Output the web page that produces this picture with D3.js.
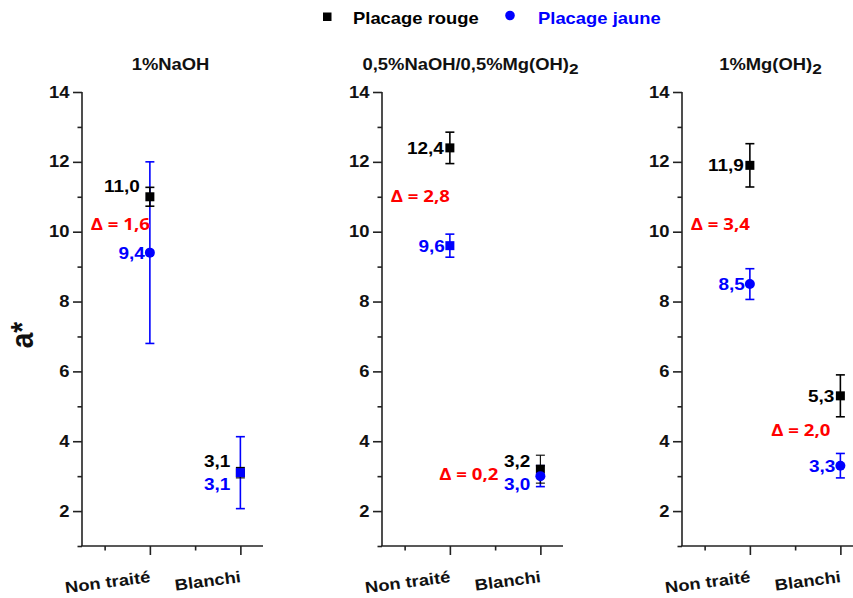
<!DOCTYPE html>
<html>
<head>
<meta charset="utf-8">
<script src="https://cdn.jsdelivr.net/npm/d3@7"></script>
<style>
  html, body { margin: 0; padding: 0; background: #fff; }
  svg { display: block; }
</style>
</head>
<body>
<svg id="chart" width="853" height="598"></svg>
<script>
// ---------------- DATA ----------------
const panelTitles = ["1%NaOH", "0,5%NaOH/0,5%Mg(OH)2", "1%Mg(OH)2"];
const categories = ["Non traité", "Blanchi"];
const seriesNames = ["Placage rouge", "Placage jaune"];
const rougeValues = [[11.0, 3.1], [12.4, 3.2], [11.9, 5.3]];
const rougeErrors = [[0.27, 0.15], [0.45, 0.40], [0.62, 0.60]];
const jauneValues = [[9.4, 3.1], [9.6, 3.0], [8.5, 3.3]];
const jauneErrors = [[2.6, 1.03], [0.33, 0.30], [0.44, 0.35]];
const jauneMarkers = [["circle", "square"], ["square", "circle"], ["circle", "circle"]];
const yMajorTicks = [2, 4, 6, 8, 10, 12, 14];
const yMinorTicks = [1, 3, 5, 7, 9, 11, 13];
const xMinorTicks = [0.5, 1.5];
const yLabel = "a*";

// ---------------- LAYOUT ----------------
const svg = d3.select("#chart");
const SX = 1.15;                 // horizontal stretch of the original figure
const panelX = [82, 382, 682];
const panelW = 181;
const yTop = 92, yBottom = 546;
const colRouge = "#000000", colJaune = "#0000ff", colDelta = "#ff0000";
const fontMain = "'Liberation Sans', Arial, sans-serif";
const fontDelta = "'Open Sans', 'Noto Sans', sans-serif";

const y = d3.scaleLinear().domain([1, 14]).range([yBottom, yTop]);
const x = d3.scaleLinear().domain([0.25, 2.25]).range([0, panelW]);
const fmt = d3.formatLocale({decimal: ",", thousands: " ", grouping: [3], currency: ["", ""]}).format(".1f");

function stretched(g, tx, ty, extra, sx) {
  return g.append("text")
    .attr("transform", `translate(${tx},${ty}) scale(${sx || SX},1)` + (extra || ""));
}

// Legend
const legend = svg.append("g");
legend.append("rect").attr("x", 323).attr("y", 12.5).attr("width", 8.5).attr("height", 8.5).attr("fill", colRouge);
stretched(legend, 353, 23.5).text(seriesNames[0])
  .attr("font-family", fontMain).attr("font-weight", "bold").attr("font-size", 16).attr("fill", colRouge);
legend.append("circle").attr("cx", 510).attr("cy", 15.5).attr("r", 4.8).attr("fill", colJaune);
stretched(legend, 538, 23.5).text(seriesNames[1])
  .attr("font-family", fontMain).attr("font-weight", "bold").attr("font-size", 16).attr("fill", colJaune);

// Y label
stretched(svg, 33, 335, " rotate(-90)").text(yLabel)
  .attr("text-anchor", "middle")
  .attr("font-family", fontMain).attr("font-weight", "bold").attr("font-size", 28).attr("fill", "#111");

panelTitles.forEach((title, p) => {
  const g = svg.append("g").attr("transform", `translate(${panelX[p]},0)`);

  // Title with subscript
  const t = stretched(g, panelW / 2 - 2, 70)
    .attr("text-anchor", "middle")
    .attr("font-family", fontMain).attr("font-weight", "bold").attr("font-size", 16).attr("fill", "#111");
  const parts = title.split(/(?<=\))2/);
  parts.forEach((part, i) => {
    if (i > 0) t.append("tspan").attr("font-size", 15).attr("dy", 4).text("2");
    if (part) t.append("tspan").attr("dy", i > 0 ? -4 : 0).text(part);
  });

  // Y axis (major + minor)
  const yAxis = g.append("g")
    .call(d3.axisLeft(y).tickValues(yMajorTicks).tickSize(9).tickSizeOuter(0).tickPadding(3.5).tickFormat(d3.format("d")));
  yAxis.selectAll("text").attr("transform", `scale(${SX},1)`)
    .attr("x", -12.5 / SX)
    .attr("font-family", fontMain).attr("font-weight", "bold").attr("font-size", 16).attr("fill", "#111");
  const yMinor = g.append("g")
    .call(d3.axisLeft(y).tickValues(yMinorTicks).tickSize(4.5).tickSizeOuter(0).tickFormat(""));
  yMinor.select(".domain").remove();

  // X axis
  const xAxis = g.append("g").attr("transform", `translate(0,${yBottom})`)
    .call(d3.axisBottom(x).tickValues([1, 2]).tickSize(9).tickSizeOuter(0).tickFormat(""));
  const xMinor = g.append("g").attr("transform", `translate(0,${yBottom})`)
    .call(d3.axisBottom(x).tickValues(xMinorTicks).tickSize(4.5).tickSizeOuter(0).tickFormat(""));
  xMinor.select(".domain").remove();
  g.selectAll(".domain, .tick line").attr("stroke", "#222").attr("stroke-width", 1.6);
  yAxis.select(".domain").attr("d", `M0,${yTop}V${yBottom}`);
  xAxis.select(".domain").attr("d", `M-0.8,0H${panelW}`);

  // X category labels (slanted)
  categories.forEach((c, i) => {
    g.append("text")
      .attr("transform", `translate(${x(i + 1) + 1},582) rotate(-7.5) scale(${SX},1)`)
      .text(c)
      .attr("text-anchor", "end")
      .attr("font-family", fontMain).attr("font-weight", "bold").attr("font-size", 16).attr("fill", "#111");
  });

  const pts = categories.map((c, i) => ({
    xi: i + 1,
    r: rougeValues[p][i], re: rougeErrors[p][i],
    j: jauneValues[p][i], je: jauneErrors[p][i],
    shape: jauneMarkers[p][i]
  }));

  function errorBar(cx, v, e, color, w) {
    const eb = g.append("g").attr("stroke", color).attr("stroke-width", w).attr("fill", "none");
    eb.append("line").attr("x1", cx).attr("x2", cx).attr("y1", y(v + e)).attr("y2", y(v - e));
    eb.append("line").attr("x1", cx - 4.5).attr("x2", cx + 4.5).attr("y1", y(v + e)).attr("y2", y(v + e));
    eb.append("line").attr("x1", cx - 4.5).attr("x2", cx + 4.5).attr("y1", y(v - e)).attr("y2", y(v - e));
  }
  function marker(cx, v, shape, color) {
    if (shape === "circle") {
      g.append("circle").attr("cx", cx).attr("cy", y(v)).attr("r", 5).attr("fill", color);
    } else {
      g.append("rect").attr("x", cx - 4.5).attr("y", y(v) - 4.5).attr("width", 9).attr("height", 9).attr("fill", color);
    }
  }

  // draw order: jaune error bars, rouge bars + markers, jaune markers
  pts.forEach(d => errorBar(x(d.xi), d.j, d.je, colJaune, 1.6));
  pts.forEach(d => errorBar(x(d.xi), d.r, d.re, colRouge, Math.abs(d.r - d.j) < 0.5 ? 1.1 : 1.6));
  pts.forEach(d => marker(x(d.xi), d.r, "square", colRouge));
  pts.forEach(d => marker(x(d.xi), d.j, d.shape, colJaune));

  // Labels
  pts.forEach(d => {
    const cx = x(d.xi);
    const overlap = Math.abs(d.r - d.j) < 0.5;
    const covered = d.j + d.je > d.r - d.re;
    let ry, jy;
    if (overlap) {
      const m = (y(d.r) + y(d.j)) / 2;
      ry = m - 12; jy = m + 11;
    } else {
      ry = y(d.r); jy = y(d.j);
      if (covered) ry -= 11;  // jaune error bar covers rouge point
    }
    stretched(g, overlap ? cx - 10 : cx - (covered ? 10 : 6), ry).text(fmt(d.r))
      .attr("text-anchor", "end").attr("dy", "0.36em")
      .attr("font-family", fontMain).attr("font-weight", "bold").attr("font-size", 16.5).attr("fill", colRouge);
    stretched(g, overlap ? cx - 10 : cx - 5, jy).text(fmt(d.j))
      .attr("text-anchor", "end").attr("dy", "0.36em")
      .attr("font-family", fontMain).attr("font-weight", "bold").attr("font-size", 16.5).attr("fill", colJaune);

    const delta = Math.round((d.r - d.j) * 10) / 10;
    if (delta > 0) {
      const dyMid = (y(d.r) + y(d.j)) / 2;
      const dx = overlap ? cx - 42 : (d.xi === 2 ? cx - 10 : cx);
      stretched(g, dx, overlap ? dyMid + 2 : dyMid, "", 1.2).text("\u0394 = " + fmt(delta))
        .attr("text-anchor", "end").attr("dy", "0.36em")
        .attr("font-family", fontDelta).attr("font-weight", 700).attr("font-size", 15.5).attr("fill", colDelta);
    }
  });
});
</script>
</body>
</html>
